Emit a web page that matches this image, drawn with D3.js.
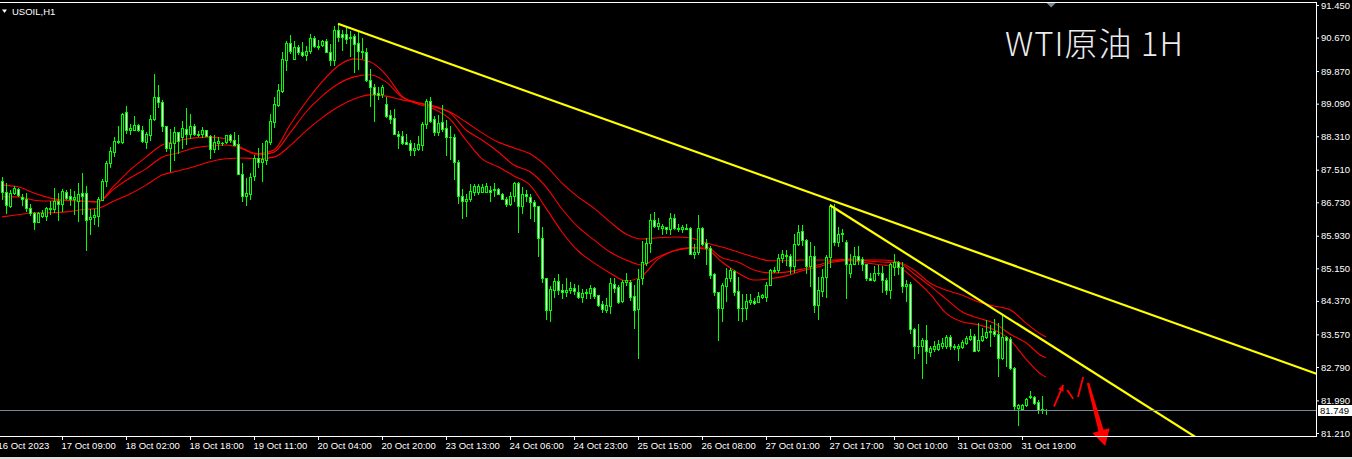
<!DOCTYPE html>
<html>
<head>
<meta charset="utf-8">
<script src="https://cdn.jsdelivr.net/npm/d3@7"></script>
<style>
  html, body { margin: 0; padding: 0; background: #000; overflow: hidden; }
  svg { display: block; }
  .axis text { font-family: "Liberation Sans", Arial, sans-serif; font-size: 9.5px; fill: #fff; }
  .axis line { stroke: #fff; }
</style>
</head>
<body>
<svg id="chart" width="1352" height="459"></svg>
<script>
// USOIL H1, one value per bar (bar 0 = first full candle on the left)
const opens = [
  87.24, 86.98, 86.65, 86.96, 87.04, 86.85, 86.82, 86.60, 86.48, 86.27,
  86.41, 86.39, 86.60, 86.58, 86.77, 86.68, 86.98, 86.87, 86.82, 86.76,
  86.95, 86.95, 86.33, 86.37, 86.41, 86.79, 87.25, 87.67, 87.94, 88.20,
  88.17, 88.88, 88.45, 88.47, 88.58, 88.45, 88.18, 88.34, 88.72, 89.25,
  89.14, 88.55, 88.02, 88.15, 88.40, 88.29, 88.48, 88.36, 88.56, 88.37,
  88.37, 88.45, 88.31, 88.00, 88.15, 88.14, 88.17, 88.33, 88.21, 88.13,
  87.41, 86.88, 86.94, 87.35, 87.78, 87.70, 87.73, 88.18, 88.66, 89.06,
  89.40, 90.13, 90.54, 90.17, 90.44, 90.33, 90.25, 90.35, 90.65, 90.45,
  90.49, 90.59, 90.33, 90.14, 90.84, 90.75, 90.75, 90.66, 90.72, 90.54,
  90.36, 90.32, 89.65, 89.50, 89.34, 89.33, 89.07, 88.82, 88.74, 88.36,
  88.31, 88.18, 88.15, 87.99, 88.00, 88.10, 88.61, 89.15, 88.72, 88.42,
  88.64, 88.51, 88.29, 88.29, 87.69, 86.87, 86.76, 86.81, 86.98, 86.98,
  86.98, 86.98, 87.02, 87.03, 87.05, 86.94, 86.82, 86.68, 86.89, 87.18,
  86.65, 86.92, 86.86, 86.73, 86.63, 85.87, 84.91, 84.16, 84.64, 84.85,
  84.64, 84.58, 84.62, 84.67, 84.58, 84.46, 84.56, 84.56, 84.67, 84.50,
  84.30, 84.15, 84.24, 84.77, 84.70, 84.37, 84.83, 84.83, 84.48, 84.18,
  84.91, 85.28, 85.76, 86.30, 86.17, 86.11, 86.13, 86.09, 86.35, 86.12,
  86.10, 86.10, 86.11, 85.50, 85.53, 86.11, 85.76, 85.63, 85.01, 84.58,
  84.19, 84.72, 84.91, 85.09, 84.61, 84.20, 84.19, 84.34, 84.37, 84.35,
  84.46, 84.46, 84.75, 85.09, 85.10, 85.39, 85.47, 85.45, 85.20, 85.72,
  86.04, 85.82, 85.20, 85.44, 84.27, 84.61, 84.94, 85.42, 86.60, 85.77,
  85.98, 85.77, 85.04, 85.26, 85.45, 85.37, 85.25, 84.93, 84.88, 85.03,
  85.04, 84.88, 84.64, 85.17, 85.29, 85.17, 84.72, 84.78, 83.70, 83.28,
  83.28, 83.43, 83.14, 83.22, 83.22, 83.28, 83.30, 83.51, 83.30, 83.24,
  83.27, 83.36, 83.46, 83.54, 83.19, 83.44, 83.51, 83.62, 83.65, 83.57,
  83.01, 83.51, 83.46, 82.77, 81.80, 81.78, 81.88, 82.10, 82.06, 81.96,
  81.78, 81.75
];
const highs = [
  87.33, 87.18, 87.02, 87.12, 87.08, 86.94, 86.96, 86.68, 86.50, 86.50,
  86.55, 86.61, 86.76, 87.06, 86.96, 87.04, 87.03, 87.04, 87.01, 87.20,
  87.44, 87.12, 86.58, 86.57, 86.85, 87.28, 87.72, 88.05, 88.28, 88.55,
  88.87, 89.03, 88.61, 88.79, 88.61, 88.55, 88.42, 88.82, 89.79, 89.54,
  89.17, 88.56, 88.48, 88.53, 88.42, 88.68, 88.98, 88.84, 88.60, 88.43,
  88.53, 88.47, 88.34, 88.34, 88.30, 88.18, 88.34, 88.36, 88.40, 88.34,
  87.67, 87.32, 87.42, 87.86, 88.02, 88.15, 88.23, 88.84, 89.25, 89.55,
  90.32, 90.59, 90.73, 90.59, 90.49, 90.56, 90.46, 90.75, 90.70, 90.62,
  90.62, 90.64, 90.52, 90.95, 91.00, 90.86, 90.95, 90.83, 90.75, 90.81,
  90.65, 90.41, 89.93, 89.55, 89.50, 89.54, 89.25, 88.93, 88.95, 88.44,
  88.44, 88.36, 88.21, 88.15, 88.31, 88.64, 89.19, 89.25, 88.79, 88.82,
  89.06, 88.69, 88.56, 88.37, 87.73, 87.04, 86.92, 87.16, 87.16, 87.16,
  87.16, 87.19, 87.13, 87.19, 87.08, 86.95, 86.86, 86.98, 87.22, 87.21,
  87.10, 87.02, 86.92, 86.79, 86.65, 86.14, 84.93, 84.72, 84.93, 85.01,
  84.77, 84.91, 84.82, 84.77, 84.75, 84.66, 84.66, 84.74, 84.70, 84.51,
  84.37, 84.45, 84.91, 84.93, 84.75, 84.86, 85.04, 84.86, 84.75, 85.13,
  85.80, 85.87, 86.44, 86.49, 86.35, 86.20, 86.14, 86.47, 86.46, 86.22,
  86.19, 86.22, 86.14, 85.72, 86.43, 86.15, 85.84, 85.68, 85.04, 84.59,
  84.80, 85.15, 85.15, 85.12, 84.94, 84.53, 84.54, 84.53, 84.45, 84.59,
  84.54, 84.82, 85.13, 85.18, 85.49, 85.58, 85.58, 85.49, 85.96, 86.19,
  86.19, 85.84, 85.79, 85.68, 84.94, 85.13, 85.48, 86.68, 86.70, 86.14,
  86.09, 85.82, 85.50, 85.66, 85.68, 85.42, 85.26, 85.04, 85.20, 85.23,
  85.20, 84.91, 85.28, 85.49, 85.33, 85.31, 84.88, 84.82, 83.73, 83.81,
  83.49, 83.79, 83.30, 83.40, 83.44, 83.48, 83.56, 83.56, 83.35, 83.35,
  83.43, 83.54, 83.71, 83.59, 83.83, 83.73, 83.92, 83.79, 83.94, 83.84,
  84.05, 83.54, 83.51, 82.79, 81.91, 81.91, 82.05, 82.21, 82.09, 82.01,
  82.09, 81.78
];
const lows = [
  86.82, 86.48, 86.62, 86.94, 86.88, 86.66, 86.52, 86.42, 86.09, 86.25,
  86.38, 86.31, 86.44, 86.50, 86.31, 86.52, 86.81, 86.66, 86.44, 86.29,
  86.44, 85.60, 85.98, 86.21, 86.17, 86.78, 87.13, 87.57, 87.83, 88.15,
  88.15, 88.39, 88.37, 88.45, 88.44, 88.18, 88.04, 88.21, 88.71, 89.01,
  88.44, 87.96, 87.48, 87.73, 87.91, 88.02, 88.13, 88.26, 88.34, 88.31,
  88.29, 88.31, 87.80, 87.94, 88.00, 88.09, 88.15, 88.18, 88.09, 87.40,
  86.76, 86.66, 86.82, 87.27, 87.58, 87.24, 87.65, 88.12, 88.53, 89.04,
  89.38, 89.90, 90.29, 90.16, 90.27, 90.24, 90.14, 90.29, 90.45, 90.40,
  90.48, 90.32, 90.01, 90.01, 90.59, 90.38, 90.54, 90.24, 89.84, 89.93,
  90.19, 89.63, 89.04, 88.68, 89.19, 89.25, 88.76, 88.63, 88.36, 88.04,
  88.13, 88.13, 87.86, 87.85, 87.99, 87.99, 88.50, 88.66, 88.34, 88.33,
  88.44, 87.85, 87.77, 87.29, 86.71, 86.36, 86.41, 86.75, 86.90, 86.92,
  86.97, 86.97, 86.76, 86.87, 86.92, 86.80, 86.63, 86.67, 86.76, 86.03,
  86.47, 86.76, 86.36, 86.28, 85.45, 84.83, 83.94, 83.89, 84.46, 84.53,
  84.45, 84.48, 84.56, 84.53, 84.45, 84.35, 84.43, 84.43, 84.43, 84.26,
  84.11, 84.10, 84.07, 84.59, 84.32, 84.35, 84.75, 84.40, 83.73, 83.01,
  84.78, 85.23, 85.55, 86.14, 86.09, 85.96, 85.99, 85.98, 86.09, 86.04,
  86.01, 86.08, 85.49, 85.39, 85.50, 85.71, 85.26, 84.93, 84.50, 83.43,
  83.89, 84.38, 84.85, 84.50, 83.91, 83.89, 83.94, 84.29, 84.30, 84.34,
  84.43, 84.37, 84.74, 85.07, 85.07, 85.29, 85.23, 85.04, 85.07, 85.71,
  85.71, 85.04, 84.72, 84.10, 83.94, 84.48, 84.46, 85.17, 85.71, 85.69,
  85.80, 84.43, 84.94, 85.25, 85.25, 85.12, 84.88, 84.88, 84.85, 84.99,
  84.59, 84.54, 84.43, 84.99, 85.01, 84.59, 84.37, 83.60, 83.01, 83.12,
  82.52, 82.89, 83.06, 83.16, 83.19, 83.24, 83.25, 83.22, 83.22, 82.96,
  83.24, 83.33, 83.43, 83.16, 83.16, 83.41, 83.49, 83.30, 83.54, 82.57,
  82.97, 82.82, 82.74, 81.75, 81.39, 81.77, 81.86, 82.04, 81.91, 81.69,
  81.69, 81.67
];
const closes = [
  86.98, 86.66, 86.96, 87.08, 86.90, 86.82, 86.60, 86.47, 86.27, 86.48,
  86.48, 86.60, 86.57, 86.77, 86.68, 87.00, 86.84, 86.81, 86.86, 86.92,
  86.88, 86.31, 86.37, 86.43, 86.82, 87.25, 87.67, 87.96, 88.20, 88.17,
  88.85, 88.45, 88.50, 88.58, 88.45, 88.20, 88.36, 88.72, 89.25, 89.12,
  88.55, 88.04, 88.15, 88.40, 88.20, 88.50, 88.36, 88.56, 88.36, 88.34,
  88.45, 88.32, 88.00, 88.18, 88.19, 88.16, 88.33, 88.21, 88.10, 87.41,
  86.88, 86.95, 87.33, 87.78, 87.70, 87.77, 88.20, 88.68, 89.08, 89.41,
  90.16, 90.54, 90.35, 90.44, 90.32, 90.25, 90.36, 90.65, 90.46, 90.48,
  90.60, 90.33, 90.13, 90.84, 90.68, 90.68, 90.64, 90.68, 90.52, 90.35,
  90.33, 89.65, 89.50, 89.31, 89.30, 89.49, 88.79, 88.72, 88.37, 88.31,
  88.15, 88.13, 87.99, 88.04, 88.12, 88.60, 89.15, 88.68, 88.42, 88.63,
  88.48, 88.28, 88.28, 87.69, 86.87, 86.76, 86.80, 87.00, 87.13, 87.11,
  87.10, 87.11, 86.97, 87.05, 86.94, 86.81, 86.70, 86.89, 87.18, 86.65,
  86.94, 86.87, 86.73, 86.63, 85.87, 84.91, 84.16, 84.65, 84.85, 84.62,
  84.58, 84.62, 84.69, 84.61, 84.46, 84.56, 84.59, 84.69, 84.48, 84.27,
  84.18, 84.27, 84.80, 84.69, 84.35, 84.83, 84.86, 84.46, 84.16, 84.90,
  85.29, 85.76, 86.30, 86.17, 86.23, 86.17, 86.10, 86.35, 86.11, 86.10,
  86.13, 86.12, 85.50, 85.55, 86.11, 85.72, 85.63, 84.99, 84.58, 84.19,
  84.74, 84.91, 85.10, 84.59, 84.19, 84.21, 84.37, 84.40, 84.32, 84.48,
  84.51, 84.75, 85.10, 85.12, 85.39, 85.49, 85.45, 85.20, 85.72, 86.01,
  85.82, 85.20, 85.44, 84.27, 84.64, 84.94, 85.42, 86.65, 85.77, 85.98,
  86.00, 85.26, 85.26, 85.45, 85.36, 85.26, 84.93, 84.88, 85.04, 85.04,
  84.86, 84.64, 85.25, 85.29, 85.17, 84.72, 84.77, 83.70, 83.28, 83.30,
  83.43, 83.16, 83.24, 83.30, 83.35, 83.36, 83.51, 83.28, 83.27, 83.30,
  83.38, 83.48, 83.54, 83.17, 83.44, 83.52, 83.63, 83.65, 83.57, 83.01,
  83.51, 83.44, 82.76, 81.86, 81.88, 81.88, 82.02, 82.06, 81.93, 81.77,
  81.75, 81.749
];

// the three moving averages, read every 4th bar (plus the last bar)
const maBars = d3.range(0, 261, 4).concat([261]);
const maFast = [
  87.14, 87.10, 86.95, 86.83, 86.78, 86.76, 86.74, 87.12, 87.50, 87.81,
  88.10, 88.20, 88.27, 88.29, 88.25, 88.03, 87.89, 87.98, 88.58, 89.13,
  89.61, 89.99, 90.16, 90.09, 89.78, 89.27, 89.08, 88.96, 88.72, 88.22,
  87.77, 87.58, 87.36, 87.14, 86.59, 86.02, 85.57, 85.28, 85.04, 84.85,
  84.97, 85.37, 85.57, 85.64, 85.61, 85.30, 85.04, 84.87, 84.90, 84.97,
  85.09, 85.18, 85.30, 85.33, 85.28, 85.23, 85.18, 84.90, 84.54, 84.08,
  83.87, 83.80, 83.68, 83.44, 82.98, 82.60, 82.55
];
const maMid = [
  86.86, 86.86, 86.78, 86.76, 86.78, 86.76, 86.74, 87.05, 87.31, 87.53,
  87.81, 87.91, 88.03, 88.08, 88.10, 88.01, 87.86, 87.93, 88.39, 88.89,
  89.27, 89.56, 89.73, 89.78, 89.61, 89.25, 89.11, 89.01, 88.87, 88.46,
  88.22, 87.94, 87.62, 87.46, 87.10, 86.57, 86.14, 85.83, 85.54, 85.35,
  85.23, 85.42, 85.57, 85.64, 85.66, 85.40, 85.30, 85.11, 85.04, 85.06,
  85.13, 85.23, 85.33, 85.37, 85.33, 85.30, 85.28, 85.02, 84.73, 84.42,
  84.11, 83.96, 83.84, 83.58, 83.37, 83.05, 83.01
];
const maSlow = [
  86.38, 86.43, 86.48, 86.48, 86.50, 86.55, 86.59, 86.76, 86.93, 87.14,
  87.38, 87.48, 87.58, 87.70, 87.77, 87.79, 87.77, 87.81, 88.08, 88.44,
  88.75, 89.01, 89.20, 89.30, 89.27, 89.18, 89.11, 89.03, 88.89, 88.65,
  88.39, 88.17, 88.03, 87.89, 87.60, 87.19, 86.86, 86.59, 86.26, 85.97,
  85.85, 85.88, 85.90, 85.88, 85.76, 85.66, 85.54, 85.42, 85.33, 85.33,
  85.35, 85.35, 85.35, 85.35, 85.35, 85.35, 85.30, 85.11, 84.80, 84.63,
  84.51, 84.35, 84.25, 84.16, 83.84, 83.56, 83.51
];

// trend lines: two anchor points each (bar, price)
const trendLong = [[84, 91.00], [207, 86.79]];
const trendShort = [[207, 86.66], [250, 84.05]];

// hand drawn red strokes after the last bar (bar, price)
const strokes = [
  [[263, 81.84], [265.3, 82.36]],
  [[266.3, 82.24], [267.8, 82.03]],
  [[269, 82.07], [270.3, 82.55]]
];
const bigArrow = [[271.5, 82.41], [275.8, 80.90]];

const priceTicks = [91.45, 90.67, 89.87, 89.09, 88.31, 87.51, 86.73, 85.93, 85.15, 84.37, 83.57, 82.79, 81.99, 81.21];
const timeLabels = [
  '16 Oct 2023', '17 Oct 09:00', '18 Oct 02:00', '18 Oct 18:00', '19 Oct 11:00', '20 Oct 04:00',
  '20 Oct 20:00', '23 Oct 13:00', '24 Oct 06:00', '24 Oct 23:00', '25 Oct 15:00', '26 Oct 08:00',
  '27 Oct 01:00', '27 Oct 17:00', '30 Oct 10:00', '31 Oct 03:00', '31 Oct 19:00'
];
const lastPrice = 81.749;
const symbol = 'USOIL,H1';
const title = 'WTI原油 1H';

// ---- layout
const plotRight = 1316, plotTop = 2, plotBottom = 436;
const green = '#00ff00';

const svg = d3.select('#chart');
svg.append('rect').attr('width', 1352).attr('height', 459).attr('fill', '#000');

const x = d3.scaleLinear().domain([0, 261]).range([2, 1046]);
const y = d3.scaleLinear().domain([81.21, 91.45]).range([433, 5]);

svg.append('defs').append('clipPath').attr('id', 'plot-clip')
  .append('rect').attr('x', 0).attr('y', plotTop).attr('width', plotRight).attr('height', plotBottom - plotTop);

// moving averages
const maLine = d3.line()
  .x((d) => x(d[0]))
  .y((d) => y(d[1]))
  .curve(d3.curveMonotoneX);
const gMa = svg.append('g').attr('clip-path', 'url(#plot-clip)');
[maFast, maMid, maSlow].forEach((vals) => {
  gMa.append('path')
    .datum(maBars.map((b, k) => [b, vals[k]]))
    .attr('fill', 'none')
    .attr('stroke', '#ff0000')
    .attr('stroke-width', 1.1)
    .attr('d', maLine);
});

// candles
const candles = opens.map((o, i) => ({ i, o, h: highs[i], l: lows[i], c: closes[i] }));
const gC = svg.append('g').attr('clip-path', 'url(#plot-clip)').attr('shape-rendering', 'crispEdges');
const bars = gC.selectAll('g.bar').data(candles).join('g').attr('class', 'bar');
bars.each(function(d) {
  const g = d3.select(this);
  const cx = Math.round(x(d.i));
  const yh = Math.round(y(d.h)), yl = Math.round(y(d.l));
  const top = Math.round(y(Math.max(d.o, d.c)));
  const bot = Math.round(y(Math.min(d.o, d.c)));
  g.append('rect').attr('x', cx).attr('y', yh).attr('width', 1).attr('height', yl - yh + 1).attr('fill', green);
  g.append('rect').attr('x', cx - 1).attr('y', top).attr('width', 3).attr('height', bot - top + 1).attr('fill', green);
  if (bot - top >= 2) {
    g.append('rect').attr('x', cx).attr('y', top + 1).attr('width', 1).attr('height', bot - top - 1)
      .attr('fill', d.c < d.o ? '#ffffff' : '#000000');
  }
});

// trend lines, extended to the right edge
function extendLine(pts) {
  const slope = (pts[1][1] - pts[0][1]) / (pts[1][0] - pts[0][0]);
  const endBar = x.invert(plotRight + 2);
  return [pts[0], [endBar, pts[0][1] + slope * (endBar - pts[0][0])]];
}
const straight = d3.line().x((d) => x(d[0])).y((d) => y(d[1]));
const gT = svg.append('g').attr('clip-path', 'url(#plot-clip)');
[trendLong, trendShort].forEach((pts) => {
  gT.append('path').attr('d', straight(extendLine(pts)))
    .attr('stroke', '#ffff00').attr('stroke-width', 2.2).attr('fill', 'none');
});

// last price line
const yLast = Math.floor(y(lastPrice)) + 0.5;
svg.append('line').attr('x1', 0).attr('x2', plotRight).attr('y1', yLast).attr('y2', yLast)
  .attr('stroke', '#778899').attr('stroke-width', 1);

// red strokes and arrow
function headAt(p0, p1, len, half) {
  const dx = p1[0] - p0[0], dy = p1[1] - p0[1];
  const n = Math.hypot(dx, dy), ux = dx / n, uy = dy / n;
  const bx = p1[0] - ux * len, by = p1[1] - uy * len;
  return [[p1[0], p1[1]], [bx - uy * half, by + ux * half], [bx + uy * half, by - ux * half]];
}
strokes.forEach((s, k) => {
  const p0 = [x(s[0][0]), y(s[0][1])], p1 = [x(s[1][0]), y(s[1][1])];
  svg.append('line').attr('x1', p0[0]).attr('y1', p0[1]).attr('x2', p1[0]).attr('y2', p1[1])
    .attr('stroke', '#ff0000').attr('stroke-width', 1.8);
  if (k === 0) {
    svg.append('polygon').attr('points', headAt(p0, p1, 6, 3).join(' ')).attr('fill', '#ff0000');
  }
});
{
  const p0 = [x(bigArrow[0][0]), y(bigArrow[0][1])], p1 = [x(bigArrow[1][0]), y(bigArrow[1][1])];
  const dx = p1[0] - p0[0], dy = p1[1] - p0[1];
  const n = Math.hypot(dx, dy), ux = dx / n, uy = dy / n;
  const headLen = 16, headHalf = 9;
  const bx = p1[0] - ux * headLen, by = p1[1] - uy * headLen;
  const pts = [
    [p0[0] - uy * 1.2, p0[1] + ux * 1.2],
    [bx - uy * 2.6, by + ux * 2.6],
    [bx - uy * headHalf, by + ux * headHalf],
    p1,
    [bx + uy * headHalf, by - ux * headHalf],
    [bx + uy * 2.6, by - ux * 2.6],
    [p0[0] + uy * 1.2, p0[1] - ux * 1.2]
  ];
  svg.append('polygon').attr('points', pts.join(' ')).attr('fill', '#ff0000');
}

// frame
const frame = svg.append('g').attr('shape-rendering', 'crispEdges');
frame.append('line').attr('x1', 0).attr('x2', plotRight + 1).attr('y1', plotTop + 0.5).attr('y2', plotTop + 0.5).attr('stroke', '#fff');
frame.append('line').attr('x1', 0).attr('x2', plotRight + 1).attr('y1', plotBottom + 0.5).attr('y2', plotBottom + 0.5).attr('stroke', '#fff');
frame.append('line').attr('x1', plotRight + 0.5).attr('x2', plotRight + 0.5).attr('y1', plotTop).attr('y2', plotBottom + 1).attr('stroke', '#fff');
svg.append('rect').attr('x', 0).attr('y', 457).attr('width', 1352).attr('height', 2).attr('fill', '#dcdcdc');

// price axis
const yAxis = svg.append('g').attr('class', 'axis')
  .attr('transform', `translate(${plotRight},0)`)
  .call(d3.axisRight(y).tickValues(priceTicks).tickFormat(d3.format('.3f')).tickSize(3).tickPadding(2));
yAxis.select('.domain').remove();

// time axis
const xAxis = svg.append('g').attr('class', 'axis')
  .attr('transform', `translate(0,${plotBottom})`)
  .call(d3.axisBottom(x)
    .tickValues(timeLabels.map((t, k) => -1 + 16 * k))
    .tickFormat((d, k) => timeLabels[k])
    .tickSize(4).tickPadding(2));
xAxis.select('.domain').remove();
xAxis.selectAll('text').attr('text-anchor', 'start').attr('dx', -1);

// last price tag
svg.append('rect').attr('x', plotRight + 2).attr('y', yLast - 5.5).attr('width', 34).attr('height', 11).attr('fill', '#fff');
svg.append('text').attr('x', plotRight + 4).attr('y', yLast).attr('dy', '0.34em')
  .style('font-family', '"Liberation Sans", Arial, sans-serif').style('font-size', '9.5px').attr('fill', '#000')
  .text(d3.format('.3f')(lastPrice));

// chart shift marker at the top
const mx = x(262.3);
svg.append('polygon').attr('points', [[mx - 4.5, 3], [mx + 4.5, 3], [mx, 7.5]].join(' ')).attr('fill', '#778899');

// symbol label
svg.append('polygon').attr('points', [[2, 9.5], [7, 9.5], [4.5, 13]].join(' ')).attr('fill', '#fff');
svg.append('text').attr('x', 12).attr('y', 14.5)
  .style('font-family', '"Liberation Sans", Arial, sans-serif').style('font-size', '9.5px').attr('fill', '#fff')
  .text(symbol);

// title
svg.append('text').attr('x', 1005).attr('y', 56)
  .style('font-family', '"Noto Sans CJK SC", "Noto Sans", sans-serif').style('font-size', '33px')
  .style('font-weight', 300).style('letter-spacing', '1px')
  .attr('fill', '#ececec')
  .text(title);
</script>
</body>
</html>
